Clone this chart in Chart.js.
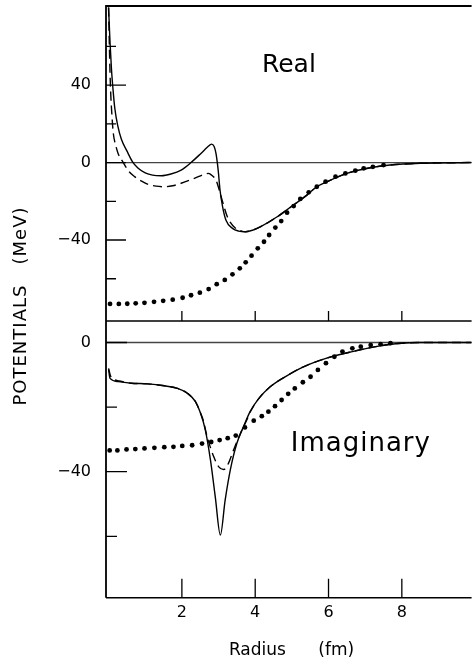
<!DOCTYPE html>
<html>
<head>
<meta charset="utf-8">
<script src="https://cdn.jsdelivr.net/npm/chart.js@4.4.1/dist/chart.umd.min.js"></script>
<style>
html,body{margin:0;padding:0;background:#fff;overflow:hidden}
#wrap{position:relative;width:474px;height:665px}
</style>
</head>
<body>
<div id="wrap"><canvas id="c" width="474" height="665"></canvas></div>
<script>
// ---- tick values / labels ----
const radiusTicks = [2, 4, 6, 8];
const realMajorTicks = [40, 0, -40];
const realMinorTicks = [60, 20, -20, -60];
const imagMajorTicks = [0, -40];
const imagMinorTicks = [-20, -60];

// ---- Real part (upper panel) ----
const realSolidR = [0.00,0.04,0.08,0.12,0.17,0.25,0.35,0.50,0.65,0.80,1.00,1.20,1.44,1.70,1.98,2.25,2.52,2.70,2.81,2.88,2.93,2.99,3.04,3.11,3.20,3.38,3.55,3.74,3.95,4.15,4.60,4.96,5.41,5.68,5.96,6.50,7.14,7.68,8.50,9.90];
const realSolidV = [80,62,48,38,28,19,12,6,0.5,-2.8,-5.3,-6.5,-6.8,-5.9,-3.9,0,4.7,8.0,9.5,8.3,4.7,-3.9,-14.2,-22.8,-29.7,-34.0,-35.4,-35.7,-34.8,-33.1,-28.0,-23.1,-16.8,-12.5,-9.9,-5.6,-2.7,-1.3,-0.4,0];

const realDashR = [0.00,0.02,0.05,0.10,0.13,0.20,0.26,0.40,0.55,0.71,0.90,1.08,1.30,1.53,1.75,1.98,2.34,2.61,2.72,2.79,2.87,2.93,3.02,3.11,3.24,3.47,3.65,3.74,3.95,4.15,4.60,4.96,5.41,5.68,5.96,6.50,7.14,7.68,8.50,9.90];
const realDashV = [80,62,40,22,15,8.5,4.7,0,-4.5,-7.3,-9.6,-11.3,-12.2,-12.5,-12.0,-10.7,-8.2,-6.1,-5.6,-6.2,-7.5,-9.0,-14.2,-20.2,-28.0,-34.0,-35.5,-35.7,-34.8,-33.1,-28.0,-23.1,-16.8,-12.5,-9.9,-5.6,-2.7,-1.3,-0.4,0];

const realDotR = [0.04,0.28,0.51,0.74,0.98,1.24,1.49,1.75,2.02,2.25,2.49,2.73,2.95,3.17,3.38,3.58,3.74,3.90,4.07,4.24,4.38,4.55,4.71,4.87,5.05,5.23,5.46,5.68,5.92,6.19,6.46,6.73,6.96,7.21,7.50];
const realDotV = [-73,-73,-72.9,-72.7,-72.4,-71.9,-71.4,-70.8,-69.8,-68.5,-67.2,-65.3,-62.8,-60.6,-57.7,-54.6,-51.5,-48.1,-44.3,-40.9,-37.4,-33.6,-30.2,-25.9,-22.5,-18.8,-15.4,-12.5,-9.9,-7.3,-5.6,-4.2,-3.0,-2.2,-1.3];

// ---- Imaginary part (lower panel) ----
const imagSolidR = [0.00,0.04,0.26,0.62,1.07,1.52,1.88,2.15,2.37,2.51,2.64,2.78,2.91,3.05,3.18,3.32,3.50,3.68,3.86,4.08,4.40,4.85,5.30,5.93,6.65,7.37,7.90,8.50,9.90];
const imagSolidV = [-8.3,-11.1,-12.1,-12.6,-12.8,-13.4,-14.2,-15.7,-18.3,-21.9,-27.1,-36.4,-47.7,-59.6,-48.8,-39.5,-31.2,-26.1,-21.4,-17.6,-13.8,-10.4,-7.6,-4.9,-2.8,-1.1,-0.3,0,0];

const imagDashR = [0.00,0.06,0.30,0.62,1.07,1.52,1.88,2.15,2.37,2.51,2.58,2.69,2.87,3.00,3.14,3.27,3.41,3.59,3.77,3.86,4.08,4.40,4.85,5.30,5.93,6.65,7.37,7.90,8.50,9.90];
const imagDashV = [-8.0,-10.5,-11.9,-12.6,-12.8,-13.4,-14.2,-15.7,-18.3,-21.9,-24.0,-29.2,-35.4,-38.4,-39.3,-37.4,-33.3,-28.3,-24.0,-21.6,-17.6,-13.8,-10.4,-7.6,-4.9,-2.8,-1.1,-0.3,0,0];

const imagDotR = [0.03,0.24,0.49,0.73,0.98,1.25,1.52,1.77,2.01,2.28,2.55,2.80,3.03,3.25,3.47,3.72,3.96,4.18,4.36,4.54,4.72,4.90,5.08,5.30,5.51,5.71,5.93,6.16,6.38,6.65,6.88,7.15,7.42,7.69];
const imagDotV = [-33.4,-33.4,-33.1,-33.0,-32.8,-32.6,-32.4,-32.3,-32.0,-31.8,-31.3,-30.8,-30.2,-29.6,-28.8,-26.3,-24.2,-22.8,-21.4,-19.7,-17.8,-15.9,-14.2,-12.3,-10.6,-8.5,-6.4,-4.4,-2.8,-1.8,-1.3,-0.8,-0.5,-0.2];

const F = "'DejaVu Sans', sans-serif";
const pts = (rs, vs) => rs.map((r, i) => ({x: r, y: vs[i]}));
const minus = v => (v < 0 ? '\u2212' + Math.abs(v) : String(v));
const noPad = s => { s.paddingTop = 0; s.paddingBottom = 0; s.paddingLeft = 0; s.paddingRight = 0; };

const solidStyle = {borderColor:'#000', borderWidth:1.4, pointRadius:0, fill:false, cubicInterpolationMode:'monotone'};
const dashStyle = Object.assign({}, solidStyle, {borderDash:[9,5]});
const dotStyle = {showLine:false, pointRadius:2.4, pointHoverRadius:2.4, pointBackgroundColor:'#000', pointBorderWidth:0, borderColor:'#000'};

const frame = {
  id: 'frame',
  beforeDatasetsDraw(chart) {
    const {ctx, chartArea: a, scales: {yTop, yBot}} = chart;
    ctx.save();
    ctx.strokeStyle = '#444';
    ctx.lineWidth = 1.3;
    [yTop, yBot].forEach(s => {
      const y = s.getPixelForValue(0);
      ctx.beginPath(); ctx.moveTo(a.left, y); ctx.lineTo(a.right, y); ctx.stroke();
    });
    ctx.restore();
  },
  afterDatasetsDraw(chart) {
    const {ctx, chartArea: a, scales: {x, yTop, yBot}} = chart;
    ctx.save();
    ctx.strokeStyle = '#000';
    ctx.lineWidth = 1.8;
    ctx.beginPath();
    ctx.moveTo(a.left, a.bottom); ctx.lineTo(a.left, a.top); ctx.lineTo(a.right, a.top);
    ctx.stroke();
    ctx.lineWidth = 1.5;
    ctx.beginPath();
    ctx.moveTo(a.left, yTop.bottom); ctx.lineTo(a.right, yTop.bottom);
    ctx.moveTo(a.left, a.bottom); ctx.lineTo(a.right, a.bottom);
    ctx.stroke();
    ctx.lineWidth = 1.3;
    ctx.beginPath();
    const yt = (s, vals, len) => vals.forEach(v => { const y = s.getPixelForValue(v); ctx.moveTo(a.left, y); ctx.lineTo(a.left + len, y); });
    yt(yTop, realMajorTicks, 20); yt(yTop, realMinorTicks, 10);
    yt(yBot, imagMajorTicks, 21); yt(yBot, imagMinorTicks, 11);
    radiusTicks.forEach(v => {
      const px = x.getPixelForValue(v);
      ctx.moveTo(px, yTop.bottom); ctx.lineTo(px, yTop.bottom - 10);
      ctx.moveTo(px, a.bottom); ctx.lineTo(px, a.bottom - 19);
    });
    ctx.stroke();
    ctx.fillStyle = '#000';
    ctx.textBaseline = 'alphabetic';
    ctx.textAlign = 'left';
    ctx.font = '25px ' + F;
    ctx.fillText('Real', x.getPixelForValue(4.185), yTop.getPixelForValue(46.7));
    ctx.font = '26px ' + F;
    try { ctx.letterSpacing = '1px'; } catch (e) {}
    ctx.fillText('Imaginary', x.getPixelForValue(4.97), yBot.getPixelForValue(-33.5));
    ctx.font = '18px ' + F;
    ctx.textAlign = 'center';
    ctx.textBaseline = 'middle';
    ctx.translate(21, 306);
    ctx.rotate(-Math.PI / 2);
    ctx.fillText('POTENTIALS   (MeV)', 0, 0);
    ctx.restore();
  }
};

const tickFont = {family: F, size: 16};

new Chart(document.getElementById('c'), {
  type: 'line',
  data: {
    datasets: [
      Object.assign({label:'Real solid', data: pts(realSolidR, realSolidV), yAxisID:'yTop'}, solidStyle),
      Object.assign({label:'Real dashed', data: pts(realDashR, realDashV), yAxisID:'yTop'}, dashStyle),
      Object.assign({label:'Real dotted', data: pts(realDotR, realDotV), yAxisID:'yTop'}, dotStyle),
      Object.assign({label:'Imag solid', data: pts(imagSolidR, imagSolidV), yAxisID:'yBot'}, solidStyle),
      Object.assign({label:'Imag dashed', data: pts(imagDashR, imagDashV), yAxisID:'yBot'}, dashStyle),
      Object.assign({label:'Imag dotted', data: pts(imagDotR, imagDotV), yAxisID:'yBot'}, dotStyle)
    ]
  },
  options: {
    responsive: false,
    animation: false,
    events: [],
    layout: {padding: {top: 6, right: 0, bottom: 0, left: 0}},
    plugins: {legend: {display: false}, tooltip: {enabled: false}},
    scales: {
      x: {
        type: 'linear', position: 'bottom', min: -0.07, max: 9.903,
        afterBuildTicks: s => { s.ticks = radiusTicks.map(v => ({value: v})); },
        afterFit: s => { s.height = 67.3; noPad(s); },
        grid: {display: false, drawTicks: false},
        border: {display: false},
        ticks: {color: '#000', font: tickFont, padding: 6, maxRotation: 0, autoSkip: false},
        title: {display: true, text: ' Radius      (fm)', color: '#000', font: {family: F, size: 17}, padding: {top: 0, bottom: 4}}
      },
      yTop: {
        type: 'linear', position: 'left', stack: 'v', stackWeight: 315, weight: 2,
        min: -81.8, max: 80.8,
        afterBuildTicks: s => { s.ticks = realMajorTicks.map(v => ({value: v})); },
        afterFit: s => { s.width = 106; noPad(s); },
        grid: {display: false, drawTicks: false},
        border: {display: false},
        ticks: {color: '#000', font: tickFont, padding: 15, callback: v => minus(v)}
      },
      yBot: {
        type: 'linear', position: 'left', stack: 'v', stackWeight: 276.7, weight: 1,
        min: -79, max: 6.66,
        afterBuildTicks: s => { s.ticks = imagMajorTicks.map(v => ({value: v})); },
        afterFit: s => { s.width = 106; noPad(s); },
        grid: {display: false, drawTicks: false},
        border: {display: false},
        ticks: {color: '#000', font: tickFont, padding: 15, callback: v => minus(v)}
      }
    }
  },
  plugins: [frame]
});
</script>
</body>
</html>
